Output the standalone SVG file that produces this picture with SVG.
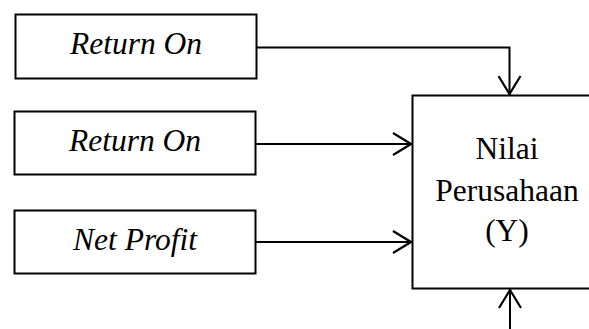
<svg xmlns="http://www.w3.org/2000/svg" width="589" height="329" viewBox="0 0 589 329">
<style>
.box{fill:#fff;stroke:#000;stroke-width:2}
.lbl{font-family:"Liberation Serif","Times New Roman",serif;font-size:31.5px;fill:#000;text-anchor:middle}
.it{font-style:italic}
.con{fill:none;stroke:#000;stroke-width:2}
</style>
<defs>
<marker id="arr" viewBox="0 0 20 24" refX="20" refY="12" markerWidth="20" markerHeight="24" markerUnits="userSpaceOnUse" orient="auto">
<path d="M1,1 L19,12 L1,23" fill="none" stroke="#000" stroke-width="2.2"/>
</marker>
</defs>
<rect width="589" height="329" fill="#fff"/>
<g id="n1">
<rect class="box" x="15.5" y="14.5" width="241" height="64"/>
<text class="lbl it" x="136" y="54">Return On</text>
</g>
<g id="n2">
<rect class="box" x="14.5" y="111.5" width="241" height="63"/>
<text class="lbl it" x="135" y="151">Return On</text>
</g>
<g id="n3">
<rect class="box" x="14.5" y="210.5" width="241" height="63"/>
<text class="lbl it" x="135" y="250">Net Profit</text>
</g>
<g id="n4">
<rect class="box" x="412.5" y="95.5" width="190" height="193"/>
<text class="lbl" x="507" y="159">Nilai</text>
<text class="lbl" x="507" y="201">Perusahaan</text>
<text class="lbl" x="507" y="241">(Y)</text>
</g>
<g id="connectors">
<path class="con" d="M256.5,47.5 H509.5 V95" marker-end="url(#arr)"/>
<path class="con" d="M255.5,144 H412" marker-end="url(#arr)"/>
<path class="con" d="M255.5,242 H412" marker-end="url(#arr)"/>
<path class="con" d="M510,329 V289" marker-end="url(#arr)"/>
</g>
</svg>
